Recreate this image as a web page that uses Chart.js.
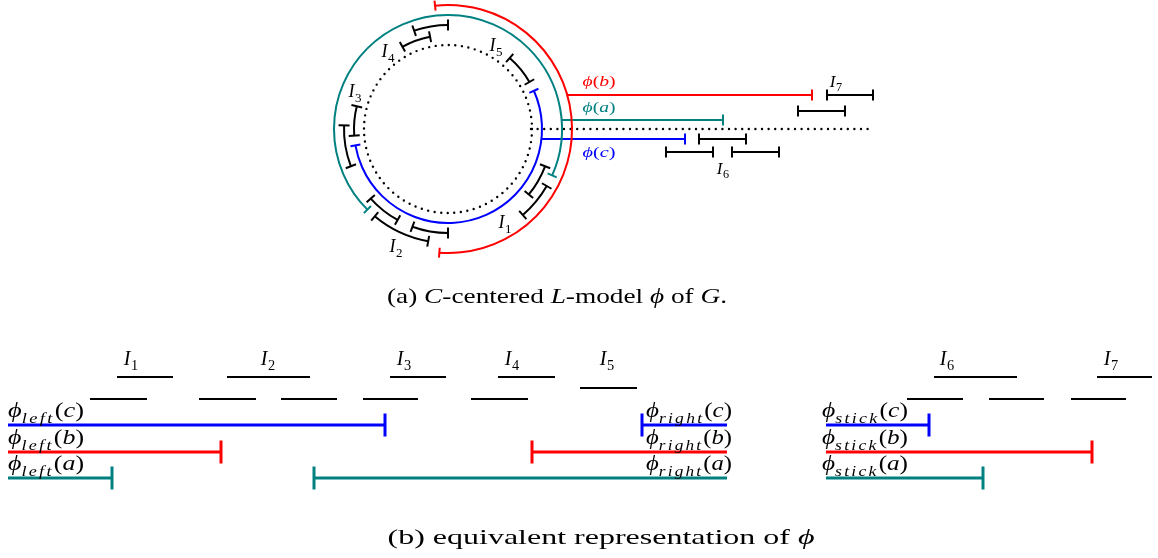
<!DOCTYPE html>
<html>
<head>
<meta charset="utf-8">
<script src="https://cdn.jsdelivr.net/npm/chart.js@4.4.0/dist/chart.umd.min.js"></script>
<style>
html, body { margin: 0; padding: 0; background: #fff; }
#wrap { width: 1158px; height: 558px; position: relative; }
</style>
</head>
<body>
<div id="wrap"><canvas id="fig"></canvas></div>
<script>
var RED = '#ff0000', TEAL = '#008080', BLUE = '#0000ff', BLACK = '#000000';

// ---- part (a): the circle model ----
var center = [448, 129];
var rings = [84, 94, 104, 114, 124];          // dotted, inner, middle, teal, red
// arcs: [ring, from deg, to deg], counter-clockwise, 0 = right
var blueArc = [1, -170, 24];
var tealArc = [3, -24, 225];
var redArc = [4, -94, 96];
var intervalArcs = [
    [2, -39, -21], [3, -49, -30],                 // I1
    [2, 222, 241], [3, 230, 260], [2, 250, 270],  // I2
    [1, 166, 184], [2, 178, 201],                 // I3
    [2, 90, 109], [1, 101, 119],                  // I4
    [1, 30, 49]                                   // I5
];

// straight parts leaving the circle: [x from, x to, y]
var outB = [567, 812, 95];
var outA = [561, 723, 120];
var outC = [541, 685, 139];
var outDotted = [531, 873, 129];
var outIntervals = [[699, 746, 139], [666, 713, 152], [732, 779, 152], [827, 873, 95], [798, 845, 111]];

// ---- part (b): the flat representation ----
var rowUpper = [[117, 173], [227, 310], [390, 446], [498, 555], [934, 1017], [1097, 1152]];
var rowUpperY = 377;
var rowI5 = [580, 637, 388];
var rowLower = [[90, 147], [199, 256], [281, 337], [363, 418], [471, 528], [907, 963], [989, 1044], [1071, 1126]];
var rowLowerY = 399;
var phiRows = [425, 452, 478];            // c, b, a
var phiColors = [BLUE, RED, TEAL];
var phiLeftEnd = [385, 221, 112];         // left piece starts at 8
var phiRightStart = [642, 532, 314];      // right piece ends at 727
var phiStickEnd = [929, 1092, 983];       // stick piece starts at 826

var datasets = [];

var seg = function (x1, x2, y, color, width, tickL, tickR, tickLen, dash) {
    datasets.push({
        data: [{x: x1, y: y}, {x: x2, y: y}],
        showLine: true,
        borderColor: color,
        borderWidth: width,
        borderDash: dash || [],
        borderCapStyle: dash ? 'round' : 'butt',
        pointStyle: 'line',
        rotation: 90,
        pointRadius: [tickL ? tickLen : 0, tickR ? tickLen : 0],
        pointBorderColor: color,
        pointBorderWidth: width,
        clip: false
    });
};

seg(outB[0], outB[1], outB[2], RED, 2, false, true, 5.5);
seg(outA[0], outA[1], outA[2], TEAL, 2, false, true, 5.5);
seg(outC[0], outC[1], outC[2], BLUE, 2, false, true, 5.5);
seg(outDotted[0], outDotted[1], outDotted[2], BLACK, 2.4, false, false, 0, [0, 6.6]);
outIntervals.forEach(function (s) { seg(s[0], s[1], s[2], BLACK, 2, true, true, 5.5); });

rowUpper.forEach(function (s) { seg(s[0], s[1], rowUpperY, BLACK, 2.2, false, false, 0); });
seg(rowI5[0], rowI5[1], rowI5[2], BLACK, 2.2, false, false, 0);
rowLower.forEach(function (s) { seg(s[0], s[1], rowLowerY, BLACK, 2.2, false, false, 0); });

for (var i = 0; i < 3; ++i) {
    seg(8, phiLeftEnd[i], phiRows[i], phiColors[i], 3, false, true, 11.5);
    seg(phiRightStart[i], 727, phiRows[i], phiColors[i], 3, true, false, 11.5);
    seg(826, phiStickEnd[i], phiRows[i], phiColors[i], 3, false, true, 11.5);
}

// ---- text ----
var SERIF = "'Liberation Serif', 'DejaVu Serif', serif";

var fontFor = function (r, size) {
    return (r.it ? 'italic ' : '') + Math.round(size * (r.s || 1) * 10) / 10 + 'px ' + SERIF;
};

var drawRich = function (ctx, runs, x, y, size, align, color, targetW) {
    var w = 0;
    runs.forEach(function (r) {
        ctx.font = fontFor(r, size);
        ctx.letterSpacing = (r.ls ? r.ls * size : 0) + 'px';
        r.w = ctx.measureText(r.t).width;
        w += r.w;
    });
    var sx = targetW ? targetW / w : 1;
    var total = w * sx;
    var x0 = align === 'left' ? x : (align === 'right' ? x - total : x - total / 2);
    ctx.save();
    ctx.fillStyle = color;
    ctx.textBaseline = 'alphabetic';
    ctx.textAlign = 'left';
    ctx.translate(x0, y);
    ctx.scale(sx, 1);
    var cur = 0;
    runs.forEach(function (r) {
        ctx.font = fontFor(r, size);
        ctx.letterSpacing = (r.ls ? r.ls * size : 0) + 'px';
        ctx.fillText(r.t, cur, (r.dy || 0) * size);
        cur += r.w;
    });
    ctx.restore();
};

var iRuns = function (n) {
    return [{t: 'I', it: 1}, {t: ' ', s: 0.15}, {t: n, s: 0.72, dy: 0.25}];
};
var phiRuns = function (sub, arg) {
    var runs = [{t: '\u03D5', it: 1}];
    if (sub) runs.push({t: sub, it: 1, s: 0.7, dy: 0.28, ls: 0.09});
    runs.push({t: '('}, {t: arg, it: 1}, {t: ')'});
    return runs;
};

// [text, x, baseline]
var circleLabels = [['1', 505, 228], ['2', 396, 252], ['3', 355, 97], ['4', 388, 57], ['5', 496, 51]];
var outLabels = [['6', 723, 174], ['7', 836, 87]];
var outPhiLabels = [['b', 599, 86, RED], ['a', 599, 112, TEAL], ['c', 599, 157, BLUE]];
var rowLabels = [['1', 131], ['2', 268], ['3', 404], ['4', 512], ['5', 607], ['6', 947], ['7', 1111]];
var rowLabelY = 365;
var phiArgs = ['c', 'b', 'a'];

var figurePlugin = {
    id: 'figure',
    afterDatasetsDraw: function (chart) {
        var ctx = chart.ctx, xs = chart.scales.x, ys = chart.scales.y;
        var cx = xs.getPixelForValue(center[0]);
        var cy = ys.getPixelForValue(center[1]);
        var rad = function (ring) { return xs.getPixelForValue(center[0] + rings[ring]) - cx; };
        var D = Math.PI / 180;

        ctx.save();
        // dotted circle
        ctx.beginPath();
        ctx.setLineDash([0, 6.6]);
        ctx.lineCap = 'round';
        ctx.lineWidth = 2.4;
        ctx.strokeStyle = BLACK;
        ctx.arc(cx, cy, rad(0), 0, Math.PI * 2);
        ctx.stroke();
        ctx.setLineDash([]);
        ctx.lineCap = 'butt';

        var drawArc = function (a, color, width, tick) {
            var r = rad(a[0]);
            ctx.strokeStyle = color;
            ctx.lineWidth = width;
            ctx.beginPath();
            ctx.arc(cx, cy, r, -a[2] * D, -a[1] * D, false);
            ctx.stroke();
            [a[1], a[2]].forEach(function (ang) {
                var c = Math.cos(ang * D), s = -Math.sin(ang * D);
                ctx.beginPath();
                ctx.moveTo(cx + c * (r - tick), cy + s * (r - tick));
                ctx.lineTo(cx + c * (r + tick), cy + s * (r + tick));
                ctx.stroke();
            });
        };
        drawArc(blueArc, BLUE, 2, 5);
        drawArc(tealArc, TEAL, 2, 5);
        drawArc(redArc, RED, 2, 5);
        intervalArcs.forEach(function (a) { drawArc(a, BLACK, 2, 5.5); });
        ctx.restore();

        circleLabels.forEach(function (l) {
            drawRich(ctx, iRuns(l[0]), xs.getPixelForValue(l[1]), ys.getPixelForValue(l[2]), 18, 'center', BLACK);
        });
        outLabels.forEach(function (l) {
            drawRich(ctx, iRuns(l[0]), xs.getPixelForValue(l[1]), ys.getPixelForValue(l[2]), 17, 'center', BLACK);
        });
        outPhiLabels.forEach(function (l) {
            drawRich(ctx, phiRuns('', l[0]), xs.getPixelForValue(l[1]), ys.getPixelForValue(l[2]), 15, 'center', l[3], 33);
        });
        rowLabels.forEach(function (l) {
            drawRich(ctx, iRuns(l[0]), xs.getPixelForValue(l[1]), ys.getPixelForValue(rowLabelY), 20, 'center', BLACK);
        });
        for (var k = 0; k < 3; ++k) {
            var by = ys.getPixelForValue(phiRows[k] - 8);
            drawRich(ctx, phiRuns('left', phiArgs[k]), xs.getPixelForValue(8), by, 20, 'left', BLACK, 76);
            drawRich(ctx, phiRuns('right', phiArgs[k]), xs.getPixelForValue(732), by, 20, 'right', BLACK, 86);
            drawRich(ctx, phiRuns('stick', phiArgs[k]), xs.getPixelForValue(822), by, 20, 'left', BLACK, 86);
        }

        drawRich(ctx, [{t: '(a) '}, {t: 'C', it: 1}, {t: '-centered '}, {t: 'L', it: 1}, {t: '-model '},
            {t: '\u03D5', it: 1}, {t: ' of '}, {t: 'G', it: 1}, {t: '.'}], 557, 303, 22, 'center', BLACK, 340);
        drawRich(ctx, [{t: '(b) equivalent representation of '}, {t: '\u03D5', it: 1}], 601, 544, 22, 'center', BLACK, 427);
    }
};

new Chart(document.getElementById('fig').getContext('2d'), {
    type: 'scatter',
    data: {datasets: datasets},
    options: {
        responsive: true,
        maintainAspectRatio: false,
        animation: false,
        events: [],
        layout: {padding: 0, autoPadding: false},
        plugins: {legend: {display: false}, tooltip: {enabled: false}},
        scales: {
            x: {type: 'linear', min: 0, max: 1158, display: false},
            y: {type: 'linear', min: 0, max: 558, reverse: true, display: false}
        }
    },
    plugins: [figurePlugin]
});
</script>
</body>
</html>
